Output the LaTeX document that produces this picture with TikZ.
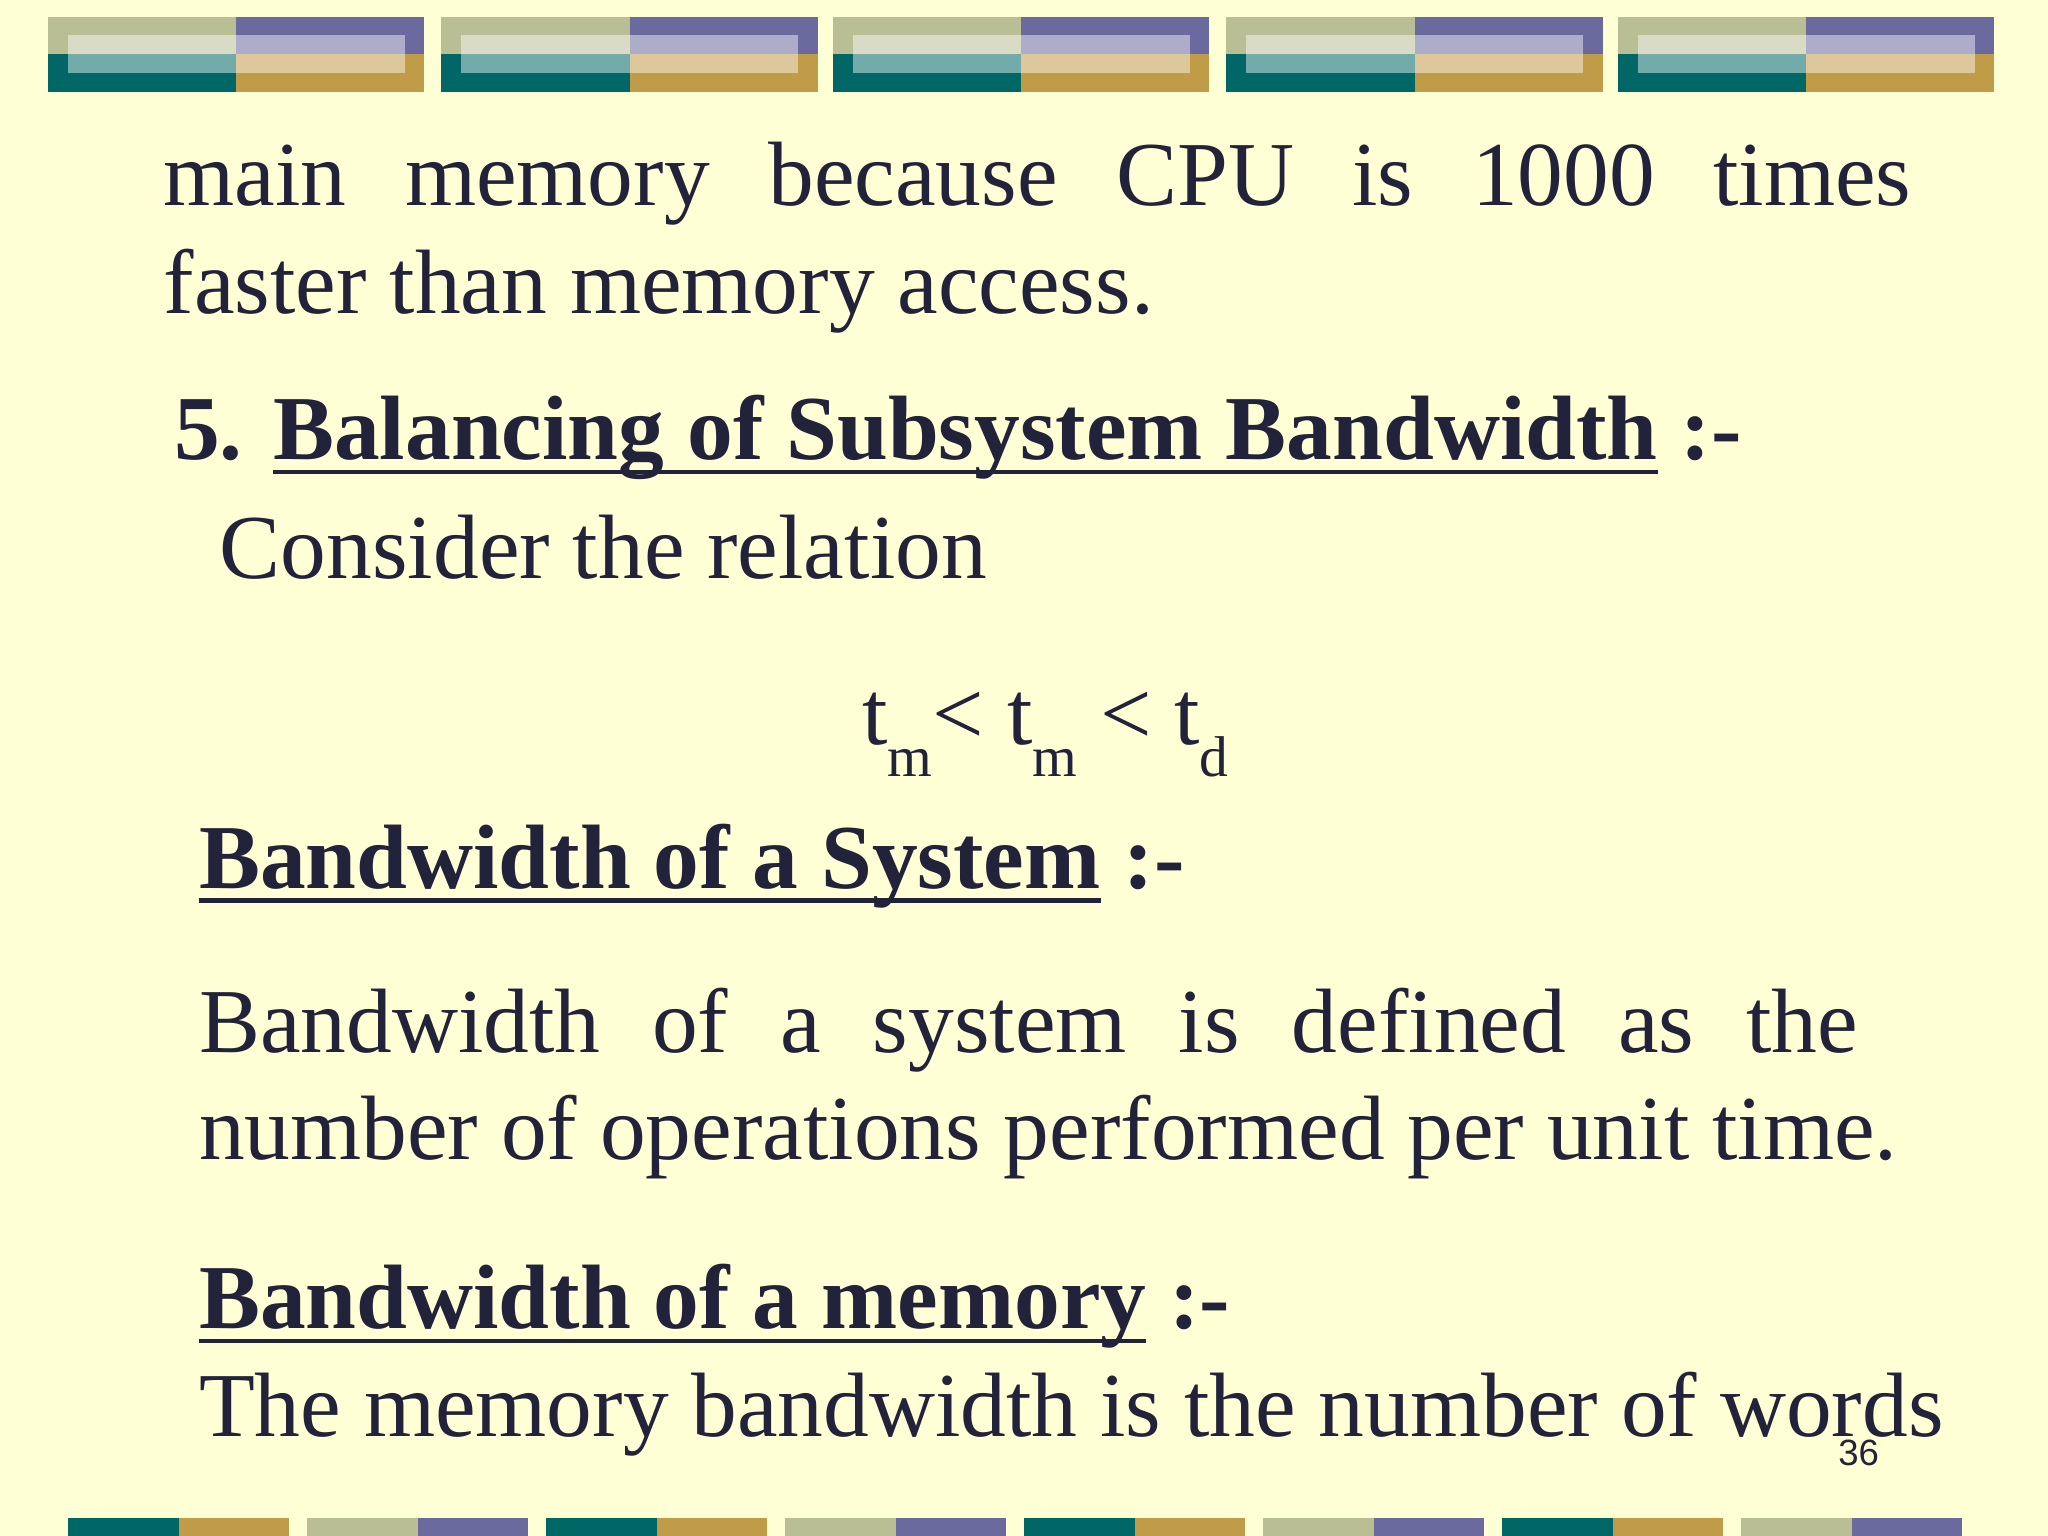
\documentclass[tikz,border=0pt]{standalone}
\usepackage{fontspec}
\setmainfont{Liberation Serif}
\newfontfamily\numfont{Liberation Sans}
\definecolor{bg}{HTML}{FFFFD6}
\definecolor{ink}{HTML}{22223A}
\definecolor{olv}{HTML}{BABE94}
\definecolor{tea}{HTML}{006666}
\definecolor{pur}{HTML}{6A6A9E}
\definecolor{gld}{HTML}{C09C48}
\newcommand\myul[1]{\setbox0\hbox{#1}\rlap{\rule[-5.5pt]{\wd0}{1.6pt}}\box0\relax}
\begin{document}
\begin{tikzpicture}[x=0.5pt,y=-0.5pt,
  txt/.style={anchor=base west,inner sep=0pt,text=ink,font=\fontsize{35}{40}\selectfont},
  bld/.style={txt,font=\fontsize{35}{40}\selectfont\bfseries}]
\fill[bg] (0,0) rectangle (1568,1176);
\useasboundingbox (0,0) rectangle (1568,1176);
% top blocks
\foreach \x in {37,338,638,939,1239}{
  \fill[olv] (\x,13) rectangle ++(144,28.6);
  \fill[tea] (\x,41.6) rectangle ++(144,28.8);
  \fill[pur] (\x+144,13) rectangle ++(144,28.6);
  \fill[gld] (\x+144,41.6) rectangle ++(144,28.8);
  \fill[white,opacity=0.45] (\x+15,27) rectangle ++(258,29);
}
% bottom squares
\foreach \x [count=\i] in {52,235,418,601,784,967,1150,1333}{
  \ifodd\i
    \fill[tea] (\x,1162) rectangle ++(85,14);
    \fill[gld] (\x+85,1162) rectangle ++(84,14);
  \else
    \fill[olv] (\x,1162) rectangle ++(85,14);
    \fill[pur] (\x+85,1162) rectangle ++(84,14);
  \fi
}
\node[txt] (l1) at (125,157) {\hbox to 669pt{main\hfill memory\hfill because\hfill CPU\hfill is\hfill 1000\hfill times}};
\node[txt] (l2) at (125,240) {faster than memory access.};
\node[bld] (h1) at (133,352) {5. \myul{Balancing of Subsystem Bandwidth} :-};
\node[txt] (l3) at (168,443) {Consider the relation};
\node[txt] (f) at (660,570) {t\raisebox{-0.35em}{\fontsize{22}{26}\selectfont m}< t\raisebox{-0.35em}{\fontsize{22}{26}\selectfont m} < t\raisebox{-0.35em}{\fontsize{22}{26}\selectfont d}};
\node[bld] (h2) at (152,680) {\myul{Bandwidth of a System} :-};
\node[txt] (l4) at (152,806) {\hbox to 635pt{Bandwidth\hfill of\hfill a\hfill system\hfill is\hfill defined\hfill as\hfill the}};
\node[txt] (l5) at (152,888) {number of operations performed per unit time.};
\node[bld] (h3) at (152,1017) {\myul{Bandwidth of a memory} :-};
\node[txt] (l6) at (152,1100) {The memory bandwidth is the number of words};
\node[anchor=base west,inner sep=0pt,text=ink,font=\numfont\fontsize{14}{16}\selectfont] (pg) at (1407,1122) {36};
\end{tikzpicture}
\end{document}
